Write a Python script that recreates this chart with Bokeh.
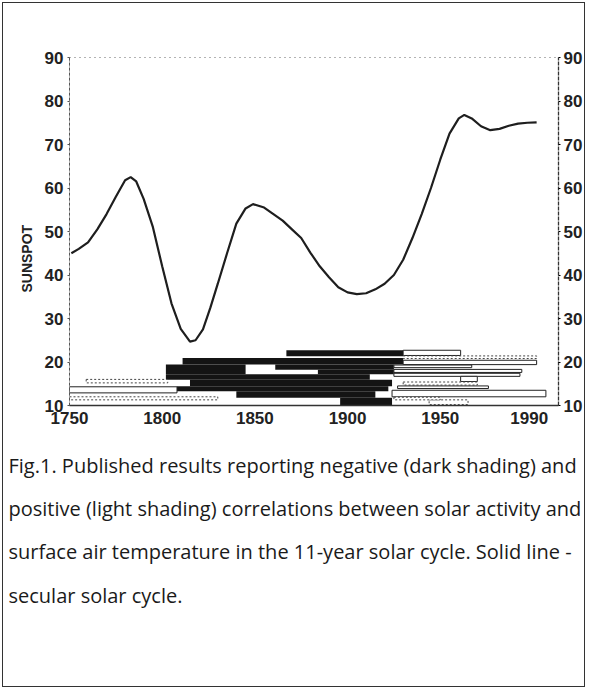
from bokeh.plotting import figure
from bokeh.models import LinearAxis, FixedTicker, Range1d, Title
from bokeh.embed import file_html
from bokeh.resources import INLINE

# ---- secular solar cycle (solid line) ----
years = [1751, 1755, 1760, 1765, 1770, 1775, 1780, 1783, 1786, 1790, 1795, 1800,
         1805, 1810, 1815, 1818, 1822, 1826, 1830, 1835, 1840, 1845, 1849, 1855,
         1860, 1865, 1870, 1875, 1880, 1885, 1890, 1895, 1900, 1905, 1910, 1915,
         1920, 1925, 1930, 1935, 1940, 1945, 1950, 1955, 1960, 1963, 1967, 1972,
         1977, 1982, 1987, 1992, 1997, 2002]
sunspot = [45.0, 46.0, 47.5, 50.5, 54.0, 58.0, 61.8, 62.5, 61.5, 57.5, 51.0, 42.0,
           33.5, 27.6, 24.7, 25.0, 27.5, 32.5, 38.0, 45.0, 51.8, 55.3, 56.3, 55.5,
           54.0, 52.5, 50.5, 48.5, 45.1, 42.0, 39.5, 37.2, 36.0, 35.6, 35.8, 36.7,
           38.0, 40.0, 43.5, 48.5, 54.0, 60.0, 66.5, 72.5, 76.0, 76.8, 76.0, 74.2,
           73.3, 73.6, 74.3, 74.8, 75.0, 75.1]

# ---- negative correlations (dark shading) ----
neg_start = [1867, 1811, 1802, 1861, 1884, 1802, 1815, 1808, 1840, 1896]
neg_end   = [1930, 1930, 1845, 1925, 1925, 1912, 1924, 1922, 1915, 1924]
neg_low   = [21.3, 19.4, 17.2, 18.2, 17.2, 15.9, 14.4, 13.3, 11.8, 10.1]
neg_high  = [22.7, 20.9, 19.4, 19.4, 18.2, 17.2, 15.9, 14.4, 13.3, 11.8]

# halftone (grey) segment
grey_start = [1948]
grey_end   = [1960]
grey_low   = [14.8]
grey_high  = [15.3]

# ---- positive correlations (light shading), solid outline ----
pos_start = [1930, 1930, 1925, 1925, 1925, 1961, 1927, 1924, 1750]
pos_end   = [1961, 2002, 1967, 1994, 1993, 1970, 1976, 2007, 1808]
pos_low   = [21.5, 19.4, 18.7, 17.6, 16.7, 15.5, 13.9, 12.0, 12.9]
pos_high  = [22.7, 20.4, 19.3, 18.3, 17.4, 16.7, 14.5, 13.5, 14.3]

# ---- positive correlations, dotted outline ----
dot_start = [1930, 1930, 1944, 1759, 1750, 1925]
dot_end   = [2002, 1970, 1965, 1803, 1830, 1950]
dot_low   = [20.8, 14.7, 10.2, 15.2, 11.3, 11.3]
dot_high  = [21.4, 15.4, 11.3, 16.0, 12.0, 11.9]

# ---- axes ----
y_ticks = [10, 20, 30, 40, 50, 60, 70, 80, 90]
x_ticks = [1750, 1800, 1850, 1900, 1950, 1998]
x_labels = ["1750", "1800", "1850", "1900", "1950", "1990"]
y_title = "SUNSPOT"

caption = ["Fig.1. Published results reporting negative (dark shading) and",
           "positive (light shading) correlations between solar activity and",
           "surface air temperature in the 11-year solar cycle. Solid line -",
           "secular solar cycle."]

FONT = "Liberation Sans"
CAP_FONT = "Open Sans"

p = figure(frame_width=489, frame_height=348,
           x_range=Range1d(1750.0, 2013.8), y_range=Range1d(10, 90),
           output_backend="svg", toolbar_location=None,
           min_border_left=69, min_border_right=29, min_border_top=57,
           min_border_bottom=284)
p.background_fill_color = "white"
p.border_fill_color = None
p.xgrid.visible = False
p.ygrid.visible = False
p.outline_line_color = "#666666"
p.outline_line_dash = "1 4"
p.outline_line_width = 1

# bars
p.quad(left=neg_start, right=neg_end, bottom=neg_low, top=neg_high,
       fill_color="#141414", line_color=None)
p.quad(left=grey_start, right=grey_end, bottom=grey_low, top=grey_high,
       fill_color="#555555", line_color=None)
p.quad(left=pos_start, right=pos_end, bottom=pos_low, top=pos_high,
       fill_color="white", line_color="#222222", line_width=1)
p.quad(left=dot_start, right=dot_end, bottom=dot_low, top=dot_high,
       fill_color="white", line_color="#444444", line_width=1, line_dash="2 2")

# curve
p.line(years, sunspot, line_color="#1e1e1e", line_width=2.2)

# left axis
ya = p.yaxis[0]
ya.ticker = FixedTicker(ticks=y_ticks)
ya.axis_label = y_title + "\u00a0" * 14
ya.axis_label_text_font = FONT
ya.axis_label_text_font_style = "bold"
ya.axis_label_text_font_size = "14px"
ya.axis_label_text_color = "#222222"
ya.axis_label_standoff = 7
ya.major_label_text_font = FONT
ya.major_label_text_font_style = "bold"
ya.major_label_text_font_size = "17px"
ya.major_label_text_color = "#222222"
ya.major_label_standoff = 4
ya.major_tick_in = 0
ya.major_tick_out = 2
ya.minor_tick_in = 0
ya.minor_tick_out = 0
ya.axis_line_color = "#555555"
ya.axis_line_dash = "3 2"
ya.major_tick_line_color = "#555555"

# right axis
ra = LinearAxis(ticker=FixedTicker(ticks=y_ticks))
ra.major_label_text_font = FONT
ra.major_label_text_font_style = "bold"
ra.major_label_text_font_size = "17px"
ra.major_label_text_color = "#222222"
ra.major_label_standoff = 3
ra.major_tick_in = 0
ra.major_tick_out = 2
ra.minor_tick_in = 0
ra.minor_tick_out = 0
ra.axis_line_color = "#333333"
ra.axis_line_dash = "4 1"
ra.axis_line_width = 1.3
p.add_layout(ra, "right")

# bottom axis
xa = p.xaxis[0]
xa.ticker = FixedTicker(ticks=x_ticks)
xa.major_label_overrides = dict(zip(x_ticks, x_labels))
xa.major_label_text_font = FONT
xa.major_label_text_font_style = "bold"
xa.major_label_text_font_size = "17px"
xa.major_label_text_color = "#222222"
xa.major_label_standoff = 6
xa.major_tick_in = 0
xa.major_tick_out = 0
xa.minor_tick_in = 0
xa.minor_tick_out = 0
xa.axis_line_color = "#333333"
xa.axis_line_width = 1.5

# caption (one multi-line title)
t = Title(text="\n".join(caption), align="left", vertical_align="top",
          offset=-61, standoff=50, text_line_height=1.61,
          text_font=CAP_FONT, text_font_size="20px", text_font_style="normal",
          text_color="#1a1a1a")
p.add_layout(t, "below")

p.styles = {"outline": "1.5px solid #333333", "outline-offset": "-3px"}

open("out.html", "w").write(file_html(p, INLINE))
